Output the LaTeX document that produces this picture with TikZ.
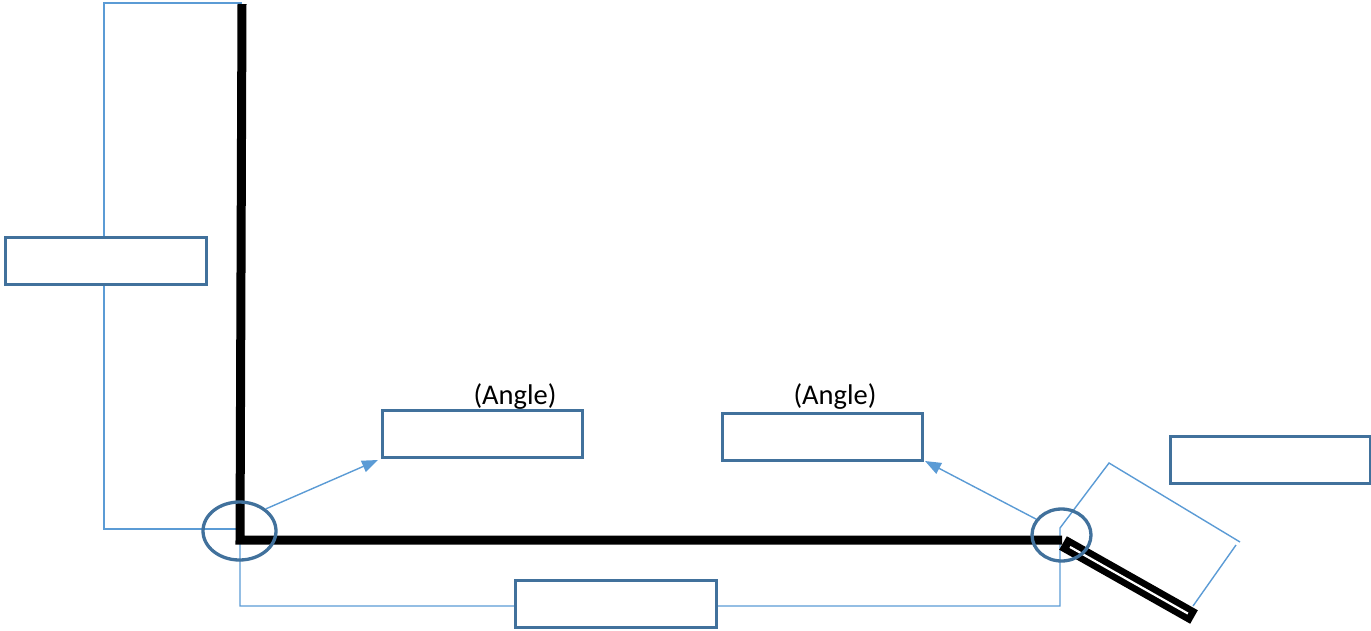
\documentclass[tikz,border=0pt]{standalone}
\usepackage{fontspec}
\setmainfont{Carlito}
\usetikzlibrary{shapes.geometric,arrows.meta,calc}
\definecolor{boxblue}{HTML}{41719C}
\definecolor{lineblue}{HTML}{5B9BD5}
\tikzset{
  emptybox/.style={draw=boxblue, line width=3pt, fill=white, rectangle, minimum width=200pt, minimum height=47pt, inner sep=0pt},
  ring/.style={draw=boxblue, line width=3.3pt, ellipse, inner sep=0pt},
  guide/.style={draw=lineblue, line width=1.4pt},
  pointer/.style={guide, -{Triangle[length=16pt,width=12pt]}, fill=lineblue},
  wall/.style={line width=9pt, black},
  label/.style={font=\fontsize{28.5}{32}\selectfont, inner sep=0pt}
}
\begin{document}
\begin{tikzpicture}[x=1pt,y=-1pt]
\useasboundingbox (0,0) rectangle (1371,630);
% guide brackets
\draw[guide] (238,529) -| (104,3) -- (242,3);
\draw[guide] (240,536) |- (1060,606) -- (1060,528) -- (1109,463) -- (1240,542);
\draw[guide] (1236,545) -- (1193,606);
% walls
\draw[wall, line join=miter] (242,4) -- (240,540) -- (1062,540);
\coordinate (d0) at (1063,543);
\coordinate (d1) at (1194,617);
\draw[line width=15.5pt, black] (d0) -- (d1);
\draw[line width=2.2pt, white] ($(d0)!8pt!(d1)$) -- ($(d1)!7pt!(d0)$);
% ellipses
\node[ring, minimum width=73pt, minimum height=58pt] (e1) at (239.5,531) {};
\node[ring, minimum width=59pt, minimum height=52pt] (e2) at (1061.5,535) {};
% boxes
\node[emptybox, minimum width=201pt] (lbox) at (105.5,261) {};
\node[emptybox] (abox1) at (482.5,434) {};
\node[emptybox] (abox2) at (822.5,437) {};
\node[emptybox] (rbox) at (1270,460) {};
\node[emptybox, minimum width=201pt] (bbox) at (615.5,604) {};
% labels
\node[label] (l1) at (515,397) {(Angle)};
\node[label] (l2) at (835,397) {(Angle)};
% pointers
\coordinate (t1) at (378,460);
\coordinate (t2) at (925,461);
\draw[pointer] (e1.40) -- (t1);
\draw[pointer] (e2.148) -- (t2);
\end{tikzpicture}
\end{document}
